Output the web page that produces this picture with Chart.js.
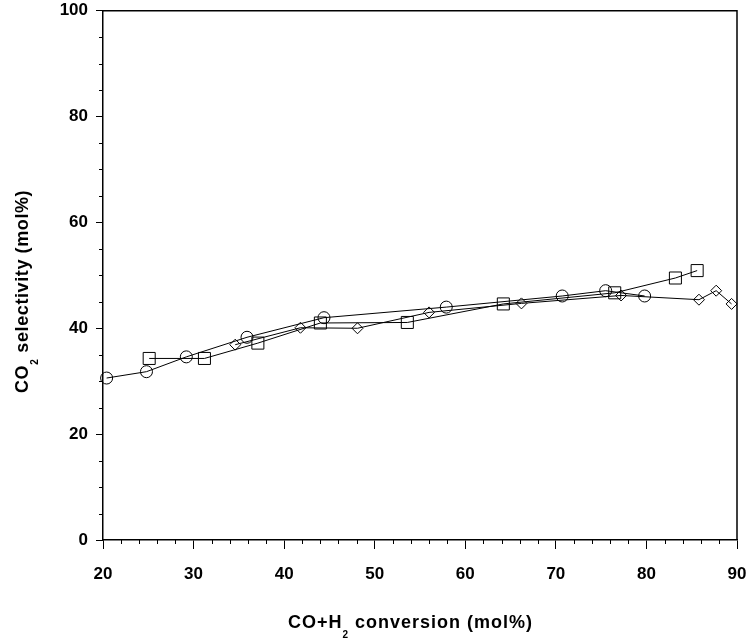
<!DOCTYPE html>
<html>
<head>
<meta charset="utf-8">
<script src="https://cdn.jsdelivr.net/npm/chart.js@4/dist/chart.umd.min.js"></script>
<style>
  html, body { margin: 0; padding: 0; background: #fff; }
  #wrap { width: 748px; height: 643px; }
</style>
</head>
<body>
<div id="wrap"><canvas id="sel"></canvas></div>
<script>
// CO2 selectivity against CO+H2 conversion, three catalyst runs
const convCircle = [20.4, 24.8, 29.2, 35.9, 44.4, 57.9, 70.7, 75.5, 79.8];
const selCircle = [30.6, 31.8, 34.6, 38.3, 42.0, 44.0, 46.1, 47.1, 46.1];

const convSquare = [25.1, 31.2, 37.1, 44.0, 53.6, 64.2, 76.5, 83.2, 85.6];
const selSquare = [34.3, 34.3, 37.2, 41.0, 41.1, 44.6, 46.7, 49.5, 50.9];

const convDiamond = [34.6, 41.8, 48.1, 56.0, 66.2, 77.2, 85.8, 87.7, 89.4];
const selDiamond = [36.9, 40.1, 40.0, 43.0, 44.7, 46.2, 45.4, 47.1, 44.6];

const xTicks = [20, 30, 40, 50, 60, 70, 80, 90];
const yTicks = [0, 20, 40, 60, 80, 100];

const FONT = '"Liberation Sans", Arial, sans-serif';

function toPoints(xs, ys) {
  return xs.map((x, i) => ({ x: x, y: ys[i] }));
}

function series(xs, ys, style, radius) {
  return {
    data: toPoints(xs, ys),
    showLine: true,
    borderColor: "#000",
    borderWidth: 1,
    pointStyle: style,
    pointRadius: radius,
    pointHoverRadius: radius,
    pointBorderColor: "#000",
    pointBorderWidth: 1,
    pointBackgroundColor: "rgba(0,0,0,0)",
    clip: false,
  };
}

// text with a subscript part, drawn left to right from (x, y) baseline
function drawRich(ctx, parts, x, y, spacing) {
  let cx = x;
  parts.forEach((p) => {
    ctx.font = p.sub ? "bold 10px " + FONT : "bold 18px " + FONT;
    ctx.letterSpacing = p.sub ? "0px" : spacing;
    ctx.fillText(p.t, cx, p.sub ? y + 10 : y);
    cx += ctx.measureText(p.t).width + (p.sub ? 1 : 0);
  });
}

const framePlugin = {
  id: "frame",
  afterDraw(chart) {
    const { ctx, chartArea: a, scales } = chart;
    const x = scales.x;
    const y = scales.y;
    ctx.save();
    ctx.strokeStyle = "#000";
    ctx.lineWidth = 1.5;
    ctx.beginPath();
    ctx.moveTo(a.left, a.top);
    ctx.lineTo(a.right, a.top);
    ctx.lineTo(a.right, a.bottom);
    ctx.stroke();

    // minor ticks
    ctx.lineWidth = 1;
    ctx.beginPath();
    for (let v = 22; v < 90; v += 2) {
      if (v % 10 === 0) continue;
      const px = Math.round(x.getPixelForValue(v)) + 0.5;
      ctx.moveTo(px, a.bottom);
      ctx.lineTo(px, a.bottom + 4);
    }
    for (let v = 5; v < 100; v += 5) {
      if (v % 20 === 0) continue;
      const py = Math.round(y.getPixelForValue(v)) + 0.5;
      ctx.moveTo(a.left, py);
      ctx.lineTo(a.left - 4, py);
    }
    ctx.stroke();

    // axis titles
    ctx.fillStyle = "#000";
    ctx.textBaseline = "alphabetic";
    ctx.textAlign = "left";
    drawRich(ctx, [
      { t: "CO+H" },
      { t: "2", sub: true },
      { t: " conversion (mol%)" },
    ], 288, 628, "1px");

    ctx.translate(28, 393);
    ctx.rotate(-Math.PI / 2);
    drawRich(ctx, [
      { t: "CO" },
      { t: "2", sub: true },
      { t: " selectivity (mol%)" },
    ], 0, 0, "0.6px");
    ctx.restore();
  },
};

const tickFont = { family: FONT, size: 17, weight: "bold" };

new Chart(document.getElementById("sel"), {
  type: "scatter",
  data: {
    datasets: [
      series(convCircle, selCircle, "circle", 6),
      series(convSquare, selSquare, "rect", 8.5),
      series(convDiamond, selDiamond, "rectRot", 5.5),
    ],
  },
  options: {
    responsive: true,
    maintainAspectRatio: false,
    animation: false,
    layout: { padding: { left: 0, right: 11, top: 10.7, bottom: 0 } },
    plugins: {
      legend: { display: false },
      tooltip: { enabled: false },
    },
    scales: {
      x: {
        type: "linear",
        min: 20,
        max: 90,
        afterFit(scale) {
          scale.height = 103;
          scale.paddingLeft = 0;
          scale.paddingRight = 0;
        },
        afterBuildTicks(scale) { scale.ticks = xTicks.map((v) => ({ value: v })); },
        border: { display: true, color: "#000", width: 1.5 },
        grid: { drawOnChartArea: false, drawTicks: true, tickLength: 9, color: "#000", lineWidth: 1 },
        ticks: { color: "#000", padding: 15, maxRotation: 0, font: tickFont },
      },
      y: {
        type: "linear",
        min: 0,
        max: 100,
        afterFit(scale) {
          scale.width = 103;
          scale.paddingTop = 0;
          scale.paddingBottom = 0;
        },
        afterBuildTicks(scale) { scale.ticks = yTicks.map((v) => ({ value: v })); },
        border: { display: true, color: "#000", width: 1.5 },
        grid: { drawOnChartArea: false, drawTicks: true, tickLength: 7, color: "#000", lineWidth: 1 },
        ticks: { color: "#000", padding: 8, font: tickFont },
      },
    },
  },
  plugins: [framePlugin],
});
</script>
</body>
</html>
